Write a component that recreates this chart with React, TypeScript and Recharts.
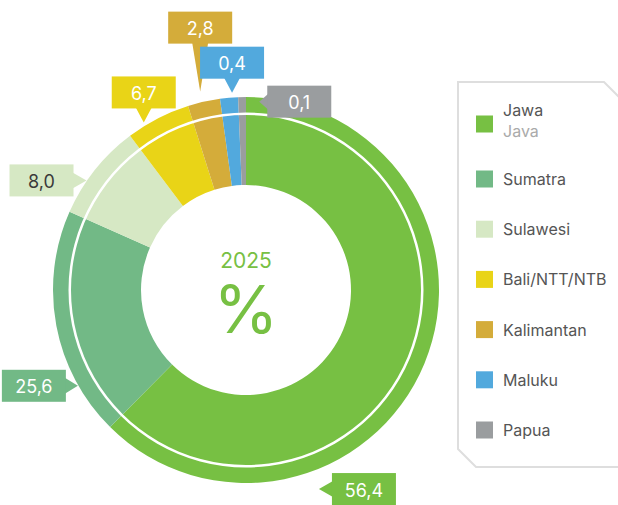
import React from 'react';
import { PieChart, Pie, Cell, Legend } from 'recharts';

const regions = ['Jawa', 'Sumatra', 'Sulawesi', 'Bali/NTT/NTB', 'Kalimantan', 'Maluku', 'Papua'];
const regionsEn = ['Java', '', '', '', '', '', ''];
// printed values, %
const shareLabels = ['56,4', '25,6', '8,0', '6,7', '2,8', '0,4', '0,1'];
// slice sizes as drawn in the reference (the slices are not to scale with the printed values)
const sliceShares = [62.4, 19.2, 8.1, 5.4, 2.7, 1.5, 0.65];
const colors = ['#77c043', '#72b986', '#d6e8c4', '#e9d417', '#d4ac3a', '#52a9dd', '#9a9d9f'];
const labelInk = ['#fff', '#fff', '#3a3a3a', '#fff', '#fff', '#fff', '#fff'];
const year = '2025';

// where each callout points: angle shift from slice middle (deg, clockwise), distance past the rim,
// which side of the tip the box sits and how long the pointer is
const callouts = [
  { shift: 47.5, dist: 19, side: 'right', gap: 13 },
  { shift: -19, dist: 0.5, side: 'left', gap: 12 },
  { shift: -4, dist: 0.5, side: 'left', gap: 13 },
  { shift: -4.2, dist: 3.3, side: 'top', gap: 14 },
  { shift: -0.4, dist: 10.6, side: 'top', gap: 48 },
  { shift: 1, dist: 4.8, side: 'top', gap: 14 },
  { shift: 5.2, dist: -4.2, side: 'right', gap: 8 },
];

const data = regions.map((name, i) => ({ name, value: sliceShares[i] }));
const ring = [{ name: 'ring', value: 1 }];

const FONT = 'Inter, "Noto Sans", sans-serif';
const BOX_W = 64;
const BOX_H = 32;

const Callout = (props: any) => {
  const { cx, cy, midAngle, outerRadius, index } = props;
  const c = callouts[index];
  const theta = ((90 - midAngle + c.shift) * Math.PI) / 180;
  const r = outerRadius + c.dist;
  const tx = cx + r * Math.sin(theta);
  const ty = cy - r * Math.cos(theta);
  let bx = 0;
  let by = 0;
  let tri = '';
  if (c.side === 'right') {
    bx = tx + c.gap;
    by = ty - BOX_H / 2;
    tri = `${tx},${ty} ${bx + 1},${ty - 8} ${bx + 1},${ty + 8}`;
  } else if (c.side === 'left') {
    bx = tx - c.gap - BOX_W;
    by = ty - BOX_H / 2;
    tri = `${tx},${ty} ${bx + BOX_W - 1},${ty - 8} ${bx + BOX_W - 1},${ty + 8}`;
  } else {
    bx = tx - BOX_W / 2;
    by = ty - c.gap - BOX_H;
    tri = `${tx},${ty} ${tx - 8},${by + BOX_H - 1} ${tx + 8},${by + BOX_H - 1}`;
  }
  return (
    <g>
      <polygon points={tri} fill={colors[index]} />
      <rect x={bx} y={by} width={BOX_W} height={BOX_H} fill={colors[index]} />
      <text
        x={bx + BOX_W / 2}
        y={by + BOX_H / 2 + 1}
        textAnchor="middle"
        dominantBaseline="central"
        fill={labelInk[index]}
        fontSize={18}
        fontFamily={FONT}
      >
        {shareLabels[index]}
      </text>
    </g>
  );
};

// drawn as the white ring's label, so it sits at the pie centre
const CenterText = (props: any) => {
  const { cx, cy } = props;
  return (
    <g fill="#77c043" fontFamily={FONT} textAnchor="middle">
      <text x={cx} y={cy - 22} fontSize={21}>{year}</text>
      <text x={cx} y={cy + 43} fontSize={66}>%</text>
    </g>
  );
};

const LegendBox = (props: any) => {
  const payload = props.payload || [];
  const entries = regions.map((name) => payload.find((p: any) => p.value === name)).filter(Boolean);
  return (
    <svg width={168} height={405} style={{ display: 'block' }}>
      <path d="M8,12 H154 L190,48 V397 H26 L8,379 Z" fill="#fff" stroke="#dedede" strokeWidth={2} />
      {entries.map((entry: any, i: number) => {
        const y = i === 0 ? 54 : 109 + (i - 1) * 50.2;
        return (
          <g key={entry.value} fontFamily={FONT} fontSize={16}>
            <rect x={26} y={y - 8.5} width={17} height={17} fill={entry.color} />
            {regionsEn[i] ? (
              <>
                <text x={53} y={y - 14.5} dominantBaseline="central" fill="#555">{entry.value}</text>
                <text x={53} y={y + 7} dominantBaseline="central" fill="#aaa">{regionsEn[i]}</text>
              </>
            ) : (
              <text x={53} y={y} dominantBaseline="central" fill="#555">{entry.value}</text>
            )}
          </g>
        );
      })}
    </svg>
  );
};

export default function App() {
  return (
    <div style={{ position: 'absolute', left: 0, top: 0, width: 618, height: 505, background: '#fff' }}>
      <PieChart width={618} height={505} margin={{ top: 0, right: 0, bottom: 0, left: 0 }}>
        <Pie
          data={data}
          dataKey="value"
          nameKey="name"
          cx={246}
          cy={290}
          innerRadius={105}
          outerRadius={193}
          startAngle={90}
          endAngle={-270}
          stroke="none"
          label={Callout}
          labelLine={false}
          isAnimationActive={false}
        >
          {data.map((d, i) => (
            <Cell key={d.name} fill={colors[i]} />
          ))}
        </Pie>
        <Pie
          data={ring}
          dataKey="value"
          cx={246}
          cy={290}
          innerRadius={175}
          outerRadius={177.5}
          fill="#fff"
          stroke="none"
          legendType="none"
          label={CenterText}
          labelLine={false}
          isAnimationActive={false}
        />
        <Legend
          content={LegendBox}
          wrapperStyle={{ left: 450, top: 70, width: 168, height: 405 }}
        />
      </PieChart>
    </div>
  );
}
